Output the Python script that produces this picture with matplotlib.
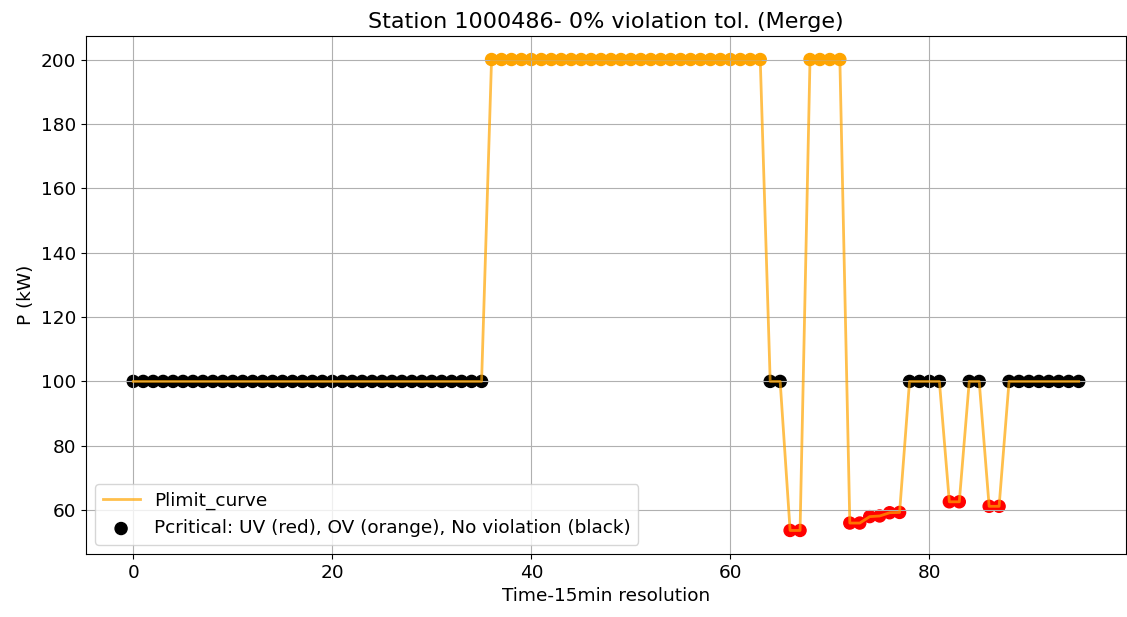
import numpy as np
import matplotlib
matplotlib.use("Agg")
import matplotlib.pyplot as plt

# Plimit per 15-min step (96 steps)
plimit = ([100] * 36 + [200] * 28 + [100, 100, 53.7, 53.7] + [200] * 4
          + [56.0, 56.0, 58.0, 58.2, 59.2, 59.3] + [100] * 4
          + [62.6, 62.6, 100, 100, 61.2, 61.2] + [100] * 8)
time_steps = np.arange(len(plimit))

# violation status per step: UV -> red, OV -> orange, none -> black
status = (["none"] * 36 + ["OV"] * 28 + ["none"] * 2 + ["UV"] * 2 + ["OV"] * 4
          + ["UV"] * 6 + ["none"] * 4 + ["UV"] * 2 + ["none"] * 2 + ["UV"] * 2
          + ["none"] * 8)
status_colors = {"UV": "red", "OV": "orange", "none": "black"}
point_colors = [status_colors[s] for s in status]

plt.rcParams['font.size'] = 13.3

fig = plt.figure(figsize=(11.27, 6.17), dpi=100)
ax = fig.add_axes([0.0763, 0.1021, 0.9228, 0.8396])

ax.plot(time_steps, plimit, color='orange', alpha=0.7, linewidth=2, label='Plimit_curve')
ax.scatter(time_steps, plimit, c=point_colors, s=75,
           label='Pcritical: UV (red), OV (orange), No violation (black)')

ax.set_title('Station 1000486- 0% violation tol. (Merge)', fontsize=16)
ax.set_xlabel('Time-15min resolution')
ax.set_ylabel('P (kW)')
ax.grid(True)
ax.legend(loc='lower left')

fig.savefig('out.png', dpi=100)
